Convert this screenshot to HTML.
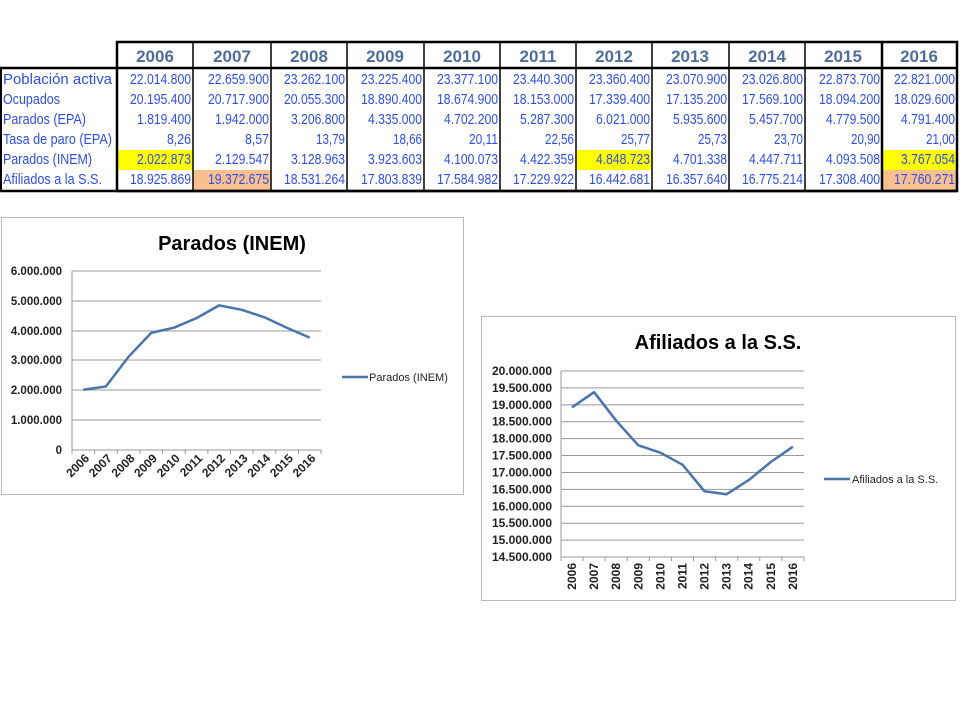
<!DOCTYPE html>
<html><head><meta charset="utf-8"><style>
body{margin:0;background:#fff}
svg{display:block}
.h{font-family:"Liberation Sans",sans-serif;font-weight:bold;font-size:17px;fill:#4f6d99}
.d{font-family:"Liberation Sans",sans-serif;font-size:14.5px;fill:#2f4fe0}
.ax{font-family:"Liberation Sans",sans-serif;font-weight:bold;font-size:11px;fill:#222}
.lg{font-family:"Liberation Sans",sans-serif;font-size:11px;fill:#222}
.t{font-family:"Liberation Sans",sans-serif;font-weight:bold;font-size:20px;fill:#000}
</style></head><body>
<svg width="960" height="720" viewBox="0 0 960 720" xmlns="http://www.w3.org/2000/svg">
<rect width="960" height="720" fill="#fff"/>
<rect x="117" y="150" width="76" height="20" fill="#ffff00"/>
<rect x="576" y="150" width="76" height="20" fill="#ffff00"/>
<rect x="882" y="150" width="75" height="20" fill="#ffff00"/>
<rect x="193" y="170" width="78" height="20" fill="#fabf8f"/>
<rect x="882" y="170" width="75" height="20" fill="#fabf8f"/>
<g stroke="#000" fill="none">
<rect x="117" y="42" width="840" height="149" stroke-width="2.5"/>
<line x1="0" y1="68" x2="957" y2="68" stroke-width="2.5"/>
<line x1="1" y1="68" x2="1" y2="191" stroke-width="2"/>
<line x1="0" y1="191" x2="957" y2="191" stroke-width="2.5"/>
<g stroke-width="1.5">
<line x1="193" y1="42" x2="193" y2="191"/><line x1="271" y1="42" x2="271" y2="191"/>
<line x1="347" y1="42" x2="347" y2="191"/><line x1="424" y1="42" x2="424" y2="191"/>
<line x1="500" y1="42" x2="500" y2="191"/><line x1="576" y1="42" x2="576" y2="191"/>
<line x1="652" y1="42" x2="652" y2="191"/><line x1="729" y1="42" x2="729" y2="191"/>
<line x1="805" y1="42" x2="805" y2="191"/>
</g>
<line x1="882" y1="42" x2="882" y2="191" stroke-width="2.5"/>
</g>
<g class="h" text-anchor="middle">
<text x="155" y="62">2006</text><text x="232" y="62">2007</text><text x="309" y="62">2008</text>
<text x="385" y="62">2009</text><text x="462" y="62">2010</text><text x="538" y="62">2011</text>
<text x="614" y="62">2012</text><text x="690" y="62">2013</text><text x="767" y="62">2014</text>
<text x="843" y="62">2015</text><text x="919" y="62">2016</text>
</g>
<g class="d">
<text x="3" y="84" textLength="109" lengthAdjust="spacingAndGlyphs">Población activa</text>
<text x="3" y="104" textLength="57" lengthAdjust="spacingAndGlyphs">Ocupados</text>
<text x="3" y="124" textLength="83" lengthAdjust="spacingAndGlyphs">Parados (EPA)</text>
<text x="3" y="144" textLength="109" lengthAdjust="spacingAndGlyphs">Tasa de paro (EPA)</text>
<text x="3" y="164" textLength="89" lengthAdjust="spacingAndGlyphs">Parados (INEM)</text>
<text x="3" y="184" textLength="99" lengthAdjust="spacingAndGlyphs">Afiliados a la S.S.</text>
</g>
<g class="d" text-anchor="end" id="rows"></g>
<rect x="1.5" y="217.5" width="462" height="277" fill="#fff" stroke="#bbb"/>
<text class="t" x="232" y="250" text-anchor="middle">Parados (INEM)</text>
<g stroke="#999" stroke-width="1">
<line x1="72" y1="271" x2="321" y2="271"/><line x1="72" y1="301" x2="321" y2="301"/>
<line x1="72" y1="331" x2="321" y2="331"/><line x1="72" y1="360" x2="321" y2="360"/>
<line x1="72" y1="390" x2="321" y2="390"/><line x1="72" y1="420" x2="321" y2="420"/>
<line x1="72" y1="450" x2="321" y2="450"/><line x1="72" y1="271" x2="72" y2="450"/>
</g>
<g class="ax" text-anchor="end" style="font-size:11.5px">
<text x="62" y="275">6.000.000</text><text x="62" y="305">5.000.000</text><text x="62" y="335">4.000.000</text>
<text x="62" y="364">3.000.000</text><text x="62" y="394">2.000.000</text><text x="62" y="424">1.000.000</text>
<text x="62" y="454">0</text>
</g>
<polyline fill="none" stroke="#4a74aa" stroke-width="2.5" stroke-linejoin="round" points="83.3,389.7 105.9,386.5 128.6,356.7 151.2,332.9 173.9,327.7 196.5,318.1 219.1,305.4 241.8,309.8 264.4,317.3 287.1,327.9 309.7,337.6"/>
<g class="ax" text-anchor="end" style="font-size:12px">
<text transform="translate(90,459) rotate(-45)">2006</text><text transform="translate(112.6,459) rotate(-45)">2007</text>
<text transform="translate(135.3,459) rotate(-45)">2008</text><text transform="translate(157.9,459) rotate(-45)">2009</text>
<text transform="translate(180.6,459) rotate(-45)">2010</text><text transform="translate(203.2,459) rotate(-45)">2011</text>
<text transform="translate(225.8,459) rotate(-45)">2012</text><text transform="translate(248.5,459) rotate(-45)">2013</text>
<text transform="translate(271.1,459) rotate(-45)">2014</text><text transform="translate(293.8,459) rotate(-45)">2015</text>
<text transform="translate(316.4,459) rotate(-45)">2016</text>
</g>
<line x1="342" y1="377" x2="368" y2="377" stroke="#4a74aa" stroke-width="2.5"/>
<text class="lg" x="369" y="381">Parados (INEM)</text>
<rect x="481.5" y="316.5" width="474" height="284" fill="#fff" stroke="#bbb"/>
<text class="t" x="718" y="349" text-anchor="middle">Afiliados a la S.S.</text>
<g stroke="#999" stroke-width="1" id="g2"></g>
<g class="ax" text-anchor="end" id="l2"></g>
<polyline fill="none" stroke="#4a74aa" stroke-width="2.5" stroke-linejoin="round" points="572,407.3 594.1,392.2 616.2,420.7 638.3,445.3 660.4,452.7 682.5,464.7 704.5,491.3 726.6,494.2 748.7,480.1 770.8,462 792.9,446.7"/>
<g class="ax" text-anchor="end" id="x2"></g>
<line x1="824" y1="479" x2="850" y2="479" stroke="#4a74aa" stroke-width="2.5"/>
<text class="lg" x="852" y="483">Afiliados a la S.S.</text>
<g id="ticks" stroke="#999"></g>
</svg>
<script>
var NS="http://www.w3.org/2000/svg";
function el(p,n,a,t){var e=document.createElementNS(NS,n);for(var k in a)e.setAttribute(k,a[k]);if(t!=null)e.textContent=t;p.appendChild(e);return e;}
var data=[
["22.014.800","22.659.900","23.262.100","23.225.400","23.377.100","23.440.300","23.360.400","23.070.900","23.026.800","22.873.700","22.821.000"],
["20.195.400","20.717.900","20.055.300","18.890.400","18.674.900","18.153.000","17.339.400","17.135.200","17.569.100","18.094.200","18.029.600"],
["1.819.400","1.942.000","3.206.800","4.335.000","4.702.200","5.287.300","6.021.000","5.935.600","5.457.700","4.779.500","4.791.400"],
["8,26","8,57","13,79","18,66","20,11","22,56","25,77","25,73","23,70","20,90","21,00"],
["2.022.873","2.129.547","3.128.963","3.923.603","4.100.073","4.422.359","4.848.723","4.701.338","4.447.711","4.093.508","3.767.054"],
["18.925.869","19.372.675","18.531.264","17.803.839","17.584.982","17.229.922","16.442.681","16.357.640","16.775.214","17.308.400","17.760.271"]];
var xr=[192,270,346,423,499,575,651,728,804,881,956];
var W={10:61,9:54,5:29,4:24};
var rows=document.getElementById("rows");
data.forEach(function(r,i){r.forEach(function(v,j){var a={x:xr[j]-1,y:84+20*i,textLength:W[v.length],lengthAdjust:"spacingAndGlyphs"};el(rows,"text",a,v);});});
var g2=document.getElementById("g2"),l2=document.getElementById("l2"),x2=document.getElementById("x2"),tk=document.getElementById("ticks");
var labs=["20.000.000","19.500.000","19.000.000","18.500.000","18.000.000","17.500.000","17.000.000","16.500.000","16.000.000","15.500.000","15.000.000","14.500.000"];
for(var i=0;i<12;i++){var y=371+16.91*i;el(g2,"line",{x1:561,y1:y,x2:804,y2:y});el(l2,"text",{x:552,y:y+4,style:"font-size:12px"},labs[i]);}
el(g2,"line",{x1:561,y1:371,x2:561,y2:557});
for(var j=0;j<11;j++){var x=572+22.09*j;el(x2,"text",{transform:"translate("+(x+4)+",563) rotate(-90)",style:"font-size:12px"},String(2006+j));}
for(var j=0;j<=11;j++){el(tk,"line",{x1:561+22.09*j,y1:557,x2:561+22.09*j,y2:561});el(tk,"line",{x1:72+22.64*j,y1:450,x2:72+22.64*j,y2:454});}
</script>
</body></html>
